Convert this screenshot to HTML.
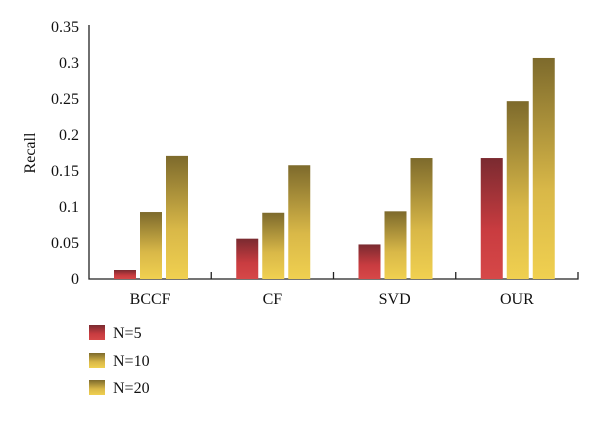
<!DOCTYPE html>
<html><head><meta charset="utf-8"><style>
body{margin:0;background:#fff;width:600px;height:416px;overflow:hidden}
svg text{font-family:"Liberation Serif",serif;fill:#111}
</style></head><body>
<svg width="600" height="416">
<defs>
<linearGradient id="gr" x1="0" y1="0" x2="0" y2="1"><stop offset="0" stop-color="#7a2a30"/><stop offset="0.6" stop-color="#c93c40"/><stop offset="1" stop-color="#d64848"/></linearGradient>
<linearGradient id="gy" x1="0" y1="0" x2="0" y2="1"><stop offset="0" stop-color="#7d6a2c"/><stop offset="0.6" stop-color="#d9b848"/><stop offset="1" stop-color="#f0d050"/></linearGradient>
</defs>
<g id="plot"></g>
</svg>
<script>
const categories=["BCCF","CF","SVD","OUR"];
const seriesN5=[0.0125,0.056,0.048,0.168];
const seriesN10=[0.093,0.092,0.094,0.247];
const seriesN20=[0.171,0.158,0.168,0.307];
const yTicks=[0,0.05,0.1,0.15,0.2,0.25,0.3,0.35];
const yTickLabels=["0","0.05","0.1","0.15","0.2","0.25","0.3","0.35"];
const legendLabels=["N=5","N=10","N=20"];
const NS="http://www.w3.org/2000/svg";
const g=document.getElementById('plot');
const x0=89,x1=578,y0=279,yTop=27,yMax=0.35;
const gw=(x1-x0)/categories.length;
const y=v=>y0-(v/yMax)*(y0-yTop);
function el(t,a,txt){const e=document.createElementNS(NS,t);for(const k in a)e.setAttribute(k,a[k]);if(txt!=null)e.textContent=txt;g.appendChild(e);return e;}
let ax=el('path',{d:`M${x0} ${yTop-2}V${y0}H${x1}V${y0-7}`,stroke:'#222','stroke-width':1.3,fill:'none'});


yTicks.forEach((v,i)=>{
 let t=el('text',{x:x0-10,y:y(v)+5,'text-anchor':'end','font-size':16},yTickLabels[i]);
 
 
});
for(let i=1;i<categories.length;i++){
 let tk=el('line',{x1:x0+gw*i,x2:x0+gw*i,y1:y0,y2:y0-7,stroke:'#222','stroke-width':1.3});
 
 
}
let yt=el('text',{x:35,y:153,'text-anchor':'middle','font-size':16,transform:'rotate(-90 35 153)'},'Recall');


const series=[seriesN5,seriesN10,seriesN20],fills=['url(#gr)','url(#gy)','url(#gy)'];
categories.forEach((c,i)=>{
 const gx=x0+gw*i;
 series.forEach((s,j)=>{
  const bx=gx+25+j*26;
  let r=el('rect',{x:bx,y:y(s[i]),width:22,height:y0-y(s[i]),fill:fills[j]});
  
  
 });
 let t=el('text',{x:gx+gw/2,y:y0+25,'text-anchor':'middle','font-size':16},c);
 
 
});
const ly=[325,353,380];
legendLabels.forEach((l,j)=>{
 let r=el('rect',{x:89,y:ly[j],width:16,height:15,fill:fills[j]});
 
 
 let t=el('text',{x:113,y:ly[j]+13,'font-size':16},l);
 
 
});
</script>
</body></html>
